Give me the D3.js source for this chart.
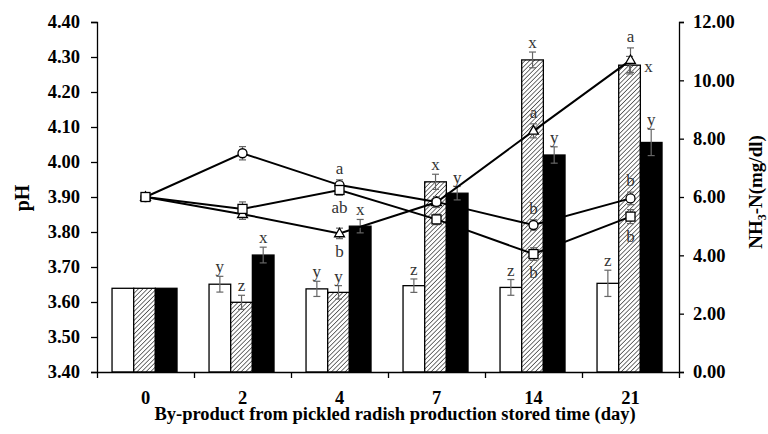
<!DOCTYPE html>
<html>
<head>
<meta charset="utf-8">
<script src="https://cdn.jsdelivr.net/npm/d3@7"></script>
<style>
  body { margin: 0; background: #fff; }
  text { font-family: "Liberation Serif", "Times New Roman", serif; }
</style>
</head>
<body>
<div id="chart"></div>
<script>
const days = ["0", "2", "4", "7", "14", "21"];

// NH3-N (mg/dl), right axis, bars
const nh3White   = [2.87, 3.01, 2.85, 2.96, 2.90, 3.04];
const nh3Hatched = [2.87, 2.39, 2.73, 6.52, 10.70, 10.52];
const nh3Black   = [2.87, 4.01, 5.00, 6.13, 7.44, 7.87];
const nh3WhiteErr   = [0, 0.27, 0.26, 0.23, 0.27, 0.45];
const nh3HatchedErr = [0, 0.24, 0.23, 0.26, 0.27, 0.30];
const nh3BlackErr   = [0, 0.27, 0.23, 0.23, 0.28, 0.45];
const nh3WhiteLetters   = ["", "y", "y", "z", "z", "z"];
const nh3HatchedLetters = ["", "z", "y", "x", "x", "x"];
const nh3BlackLetters   = ["", "x", "x", "y", "y", "y"];

// pH, left axis, lines
const phCircle   = [3.90, 4.025, 3.934, 3.886, 3.820, 3.896];
const phSquare   = [3.90, 3.866, 3.920, 3.836, 3.737, 3.844];
const phTriangle = [3.90, 3.851, 3.796, 3.885, 4.089, 4.291];
const phCircleErr   = [0, 0.019, 0.015, 0.015, 0.015, 0.018];
const phSquareErr   = [0, 0.020, 0.015, 0.015, 0.018, 0.020];
const phTriangleErr = [0, 0.015, 0.015, 0.015, 0.020, 0.035];
const phCircleLetters   = ["", "", "a", "", "b", "b"];
const phSquareLetters   = ["", "", "ab", "", "b", "b"];
const phTriangleLetters = ["", "", "b", "", "a", "a"];

const phTicks = d3.range(3.4, 4.401, 0.1);
const nh3Ticks = d3.range(0, 12.01, 2);

const width = 768, height = 434;
const margin = { top: 22, right: 89, bottom: 62, left: 97 };
const innerW = width - margin.left - margin.right;
const innerH = height - margin.top - margin.bottom;

const svg = d3.select("#chart").append("svg")
    .attr("width", width)
    .attr("height", height);

const defs = svg.append("defs");
const pat = defs.append("pattern")
    .attr("id", "hatch")
    .attr("patternUnits", "userSpaceOnUse")
    .attr("width", 3.2)
    .attr("height", 3.2)
    .attr("patternTransform", "rotate(45)");
pat.append("rect").attr("width", 3.2).attr("height", 3.2).attr("fill", "#fff");
pat.append("line")
    .attr("x1", 0).attr("y1", 0).attr("x2", 0).attr("y2", 3.2)
    .attr("stroke", "#444").attr("stroke-width", 1.5);

const g = svg.append("g").attr("transform", `translate(${margin.left},${margin.top})`);

const x = d3.scaleBand().domain(days).range([0, innerW]).padding(0);
const barSeries = [
    { key: "white", values: nh3White, err: nh3WhiteErr, letters: nh3WhiteLetters, fill: "#fff" },
    { key: "hatched", values: nh3Hatched, err: nh3HatchedErr, letters: nh3HatchedLetters, fill: "url(#hatch)" },
    { key: "black", values: nh3Black, err: nh3BlackErr, letters: nh3BlackLetters, fill: "#000" }
];
const xSub = d3.scaleBand().domain(barSeries.map(s => s.key))
    .range([x.bandwidth() * 0.155, x.bandwidth() * 0.825]).padding(0);

const yPh = d3.scaleLinear().domain([3.4, 4.4]).range([innerH, 0]);
const yN = d3.scaleLinear().domain([0, 12]).range([innerH, 0]);

// bars
barSeries.forEach(s => {
    days.forEach((d, i) => {
        const bx = x(d) + xSub(s.key);
        g.append("rect")
            .attr("x", bx)
            .attr("y", yN(s.values[i]))
            .attr("width", xSub.bandwidth())
            .attr("height", innerH - yN(s.values[i]))
            .attr("fill", s.fill)
            .attr("stroke", "#000")
            .attr("stroke-width", 1.3);
    });
});

function errBar(cx, yTop, yBot) {
    const eg = g.append("g").attr("stroke", "#666").attr("stroke-width", 1.2);
    eg.append("line").attr("x1", cx).attr("x2", cx).attr("y1", yTop).attr("y2", yBot);
    eg.append("line").attr("x1", cx - 3.5).attr("x2", cx + 3.5).attr("y1", yTop).attr("y2", yTop);
    eg.append("line").attr("x1", cx - 3.5).attr("x2", cx + 3.5).attr("y1", yBot).attr("y2", yBot);
}

function letter(tx, ty, txt, anchor) {
    g.append("text")
        .attr("x", tx).attr("y", ty)
        .attr("text-anchor", anchor || "middle")
        .attr("font-size", 17)
        .attr("fill", "#333")
        .text(txt);
}

barSeries.forEach(s => {
    days.forEach((d, i) => {
        const cx = x(d) + xSub(s.key) + xSub.bandwidth() / 2;
        if (s.err[i] > 0) errBar(cx, yN(s.values[i] + s.err[i]), yN(s.values[i] - s.err[i]));
        if (!s.letters[i]) return;
        if (s.key === "hatched" && i === days.length - 1) {
            // the pH letter sits above this bar, so this one goes to the side
            letter(cx + xSub.bandwidth() / 2 + 4, yN(s.values[i]) + 7, s.letters[i], "start");
        } else {
            letter(cx, yN(s.values[i] + s.err[i]) - 4, s.letters[i]);
        }
    });
});

// pH lines
const lineSeries = [
    { key: "triangle", values: phTriangle, err: phTriangleErr, letters: phTriangleLetters },
    { key: "circle", values: phCircle, err: phCircleErr, letters: phCircleLetters },
    { key: "square", values: phSquare, err: phSquareErr, letters: phSquareLetters }
];
const cxOf = d => x(d) + x.bandwidth() / 2;
const line = d3.line().x(p => cxOf(p.d)).y(p => yPh(p.v));

lineSeries.forEach(s => {
    g.append("path")
        .datum(days.map((d, i) => ({ d, v: s.values[i] })))
        .attr("d", line)
        .attr("fill", "none")
        .attr("stroke", "#000")
        .attr("stroke-width", 2);
});

lineSeries.forEach(s => {
    days.forEach((d, i) => {
        if (s.err[i] > 0) errBar(cxOf(d), yPh(s.values[i] + s.err[i]), yPh(s.values[i] - s.err[i]));
    });
});

lineSeries.forEach(s => {
    days.forEach((d, i) => {
        const cx = cxOf(d), cy = yPh(s.values[i]);
        const m = g.append("g").attr("transform", `translate(${cx},${cy})`);
        if (s.key === "circle") {
            m.append("circle").attr("r", 4.5);
        } else if (s.key === "square") {
            m.append("rect").attr("x", -4.5).attr("y", -4.5).attr("width", 9).attr("height", 9);
        } else {
            m.append("path").attr("d", d3.symbol(d3.symbolTriangle, 42)()).attr("transform", "translate(0,0.5)");
        }
        m.selectAll("*").attr("fill", "#fff").attr("stroke", "#000").attr("stroke-width", 1.3);
    });
});

// pH letters: highest above, lowest below, middle goes away from nearest neighbour
days.forEach((d, i) => {
    const vals = lineSeries.map(s => s.values[i]);
    lineSeries.forEach((s, k) => {
        if (!s.letters[i]) return;
        const v = vals[k];
        const others = vals.filter((_, j) => j !== k);
        let above;
        if (others.every(o => o < v)) above = true;
        else if (others.every(o => o > v)) above = false;
        else {
            const nearest = others.reduce((a, b) => Math.abs(a - v) < Math.abs(b - v) ? a : b);
            above = nearest < v;
        }
        const e = yPh(v + s.err[i]) - yPh(v);
        const cy = yPh(v);
        if (above) letter(cxOf(d), cy + e - 6, s.letters[i]);
        else letter(cxOf(d), cy - e + 18, s.letters[i]);
    });
});

// axes
const axisStyle = sel => {
    sel.selectAll("path, line").attr("stroke", "#000").attr("stroke-width", 1.3);
    sel.selectAll("text")
        .attr("font-family", "'Liberation Serif', 'Times New Roman', serif")
        .attr("font-weight", "bold")
        .attr("font-size", 18.5)
        .attr("fill", "#000");
};

g.append("g")
    .call(d3.axisLeft(yPh).tickValues(phTicks).tickFormat(d3.format(".2f")).tickSize(6).tickPadding(11).tickSizeOuter(6))
    .call(axisStyle);

g.append("g")
    .attr("transform", `translate(${innerW},0)`)
    .call(d3.axisRight(yN).tickValues(nh3Ticks).tickFormat(d3.format(".2f")).tickSize(5).tickPadding(9).tickSizeOuter(5))
    .call(axisStyle);

const xEdge = d3.scaleLinear().domain([0, days.length]).range([0, innerW]);
g.append("g")
    .attr("transform", `translate(0,${innerH})`)
    .call(d3.axisBottom(xEdge).ticks(days.length).tickSize(6).tickSizeOuter(0).tickFormat(""))
    .call(axisStyle);

g.append("g")
    .attr("transform", `translate(0,${innerH})`)
    .call(d3.axisBottom(x).tickSize(0))
    .call(sel => sel.select(".domain").remove())
    .call(axisStyle)
    .call(sel => sel.selectAll("text").attr("y", 32).attr("dy", 0));

svg.append("text")
    .attr("x", 395)
    .attr("y", 420)
    .attr("text-anchor", "middle")
    .attr("font-weight", "bold")
    .attr("font-size", 18.5)
    .text("By-product from pickled radish production stored time (day)");

svg.append("text")
    .attr("transform", `translate(29,198) rotate(-90)`)
    .attr("text-anchor", "middle")
    .attr("font-weight", "bold")
    .attr("font-size", 20)
    .text("pH");

const rt = svg.append("text")
    .attr("transform", `translate(762,192) rotate(-90)`)
    .attr("text-anchor", "middle")
    .attr("font-weight", "bold")
    .attr("font-size", 19);
rt.append("tspan").text("NH");
rt.append("tspan").attr("font-size", 12).attr("dy", 4).text("3");
rt.append("tspan").attr("dy", -4).text("-N(mg/dl)");
</script>
</body>
</html>
